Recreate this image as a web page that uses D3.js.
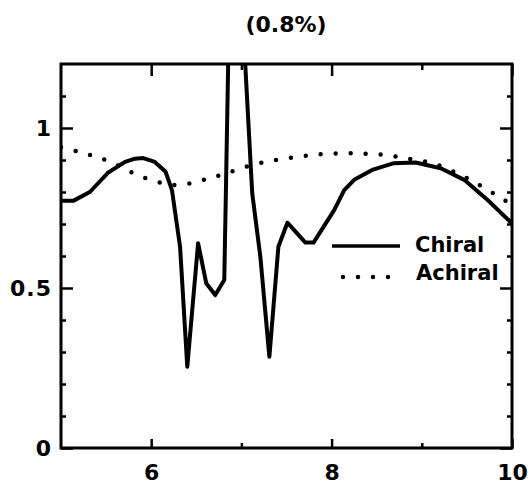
<!DOCTYPE html>
<html>
<head>
<meta charset="utf-8">
<script src="https://cdn.jsdelivr.net/npm/d3@7"></script>
<style>
  html, body { margin: 0; padding: 0; background: #fff; }
  svg { display: block; }
  text { font-family: "DejaVu Sans", sans-serif; font-weight: bold; fill: #000; }
</style>
</head>
<body>
<script>
// Wavelength-like abscissa and response values for the two media
const chiralX = [5.00, 5.14, 5.32, 5.52, 5.71, 5.82, 5.91, 6.04, 6.16, 6.23, 6.32, 6.40, 6.52, 6.61, 6.71, 6.81, 6.83, 6.90, 7.12, 7.21, 7.31, 7.41, 7.51, 7.71, 7.80, 8.03, 8.14, 8.25, 8.45, 8.69, 8.93, 9.21, 9.47, 9.73, 10.00];
const chiralY = [0.773, 0.773, 0.800, 0.860, 0.894, 0.904, 0.906, 0.894, 0.863, 0.806, 0.629, 0.254, 0.640, 0.515, 0.478, 0.525, 0.830, 1.940, 0.796, 0.598, 0.285, 0.629, 0.704, 0.642, 0.642, 0.744, 0.806, 0.838, 0.869, 0.890, 0.892, 0.874, 0.838, 0.775, 0.702];

const achiralX = [5.00, 5.19, 5.36, 5.51, 5.66, 5.81, 5.97, 6.14, 6.29, 6.47, 6.64, 6.80, 6.96, 7.12, 7.28, 7.44, 7.61, 7.77, 7.93, 8.11, 8.27, 8.43, 8.60, 8.77, 8.93, 9.10, 9.27, 9.41, 9.56, 9.72, 9.87, 10.00];
const achiralY = [0.940, 0.926, 0.912, 0.898, 0.879, 0.858, 0.840, 0.827, 0.822, 0.829, 0.843, 0.855, 0.871, 0.884, 0.895, 0.902, 0.910, 0.915, 0.919, 0.921, 0.921, 0.919, 0.916, 0.908, 0.900, 0.892, 0.874, 0.856, 0.835, 0.808, 0.783, 0.760];

const titleText = "(0.8%)";
const seriesNames = ["Chiral", "Achiral"];
const xMajorTicks = [6, 8, 10];
const xMinorTicks = [7, 9];
const yMajorTicks = [0, 0.5, 1];
const yMinorTicks = [0.1, 0.2, 0.3, 0.4, 0.6, 0.7, 0.8, 0.9, 1.1];

const W = 531, H = 487;
const plot = { left: 61, right: 512, top: 64, bottom: 448 };

const x = d3.scaleLinear().domain([5, 10]).range([plot.left, plot.right]);
const y = d3.scaleLinear().domain([0, 1.2]).range([plot.bottom, plot.top]);

const svg = d3.select("body").append("svg").attr("width", W).attr("height", H);

svg.append("defs").append("clipPath").attr("id", "plot-clip")
  .append("rect")
  .attr("x", plot.left).attr("y", plot.top)
  .attr("width", plot.right - plot.left).attr("height", plot.bottom - plot.top);

// Title
svg.append("text")
  .attr("x", 286).attr("y", 32)
  .attr("text-anchor", "middle")
  .attr("font-size", 22)
  .text(titleText);

// Axes: inward ticks on all four sides, longer at labelled values
function styleAxis(g) {
  g.select(".domain").remove();
  g.selectAll(".tick line").attr("stroke", "#000").attr("stroke-width", 2.5);
  g.selectAll(".tick text").attr("font-size", 22).attr("fill", "#000")
    .attr("font-family", "DejaVu Sans, sans-serif").attr("font-weight", "bold");
}

const fmtY = d => d === 0 ? "0" : d === 1 ? "1" : d3.format(".1f")(d);

svg.append("g").attr("transform", `translate(0,${plot.bottom})`)
  .call(d3.axisBottom(x).tickValues(xMajorTicks).tickSize(-9).tickPadding(16).tickFormat(d3.format("d")))
  .call(styleAxis);
svg.append("g").attr("transform", `translate(0,${plot.bottom})`)
  .call(d3.axisBottom(x).tickValues(xMinorTicks).tickSize(-5).tickFormat(""))
  .call(styleAxis);
svg.append("g").attr("transform", `translate(0,${plot.top})`)
  .call(d3.axisTop(x).tickValues(xMajorTicks).tickSize(-12).tickFormat(""))
  .call(styleAxis);
svg.append("g").attr("transform", `translate(0,${plot.top})`)
  .call(d3.axisTop(x).tickValues(xMinorTicks).tickSize(-6).tickFormat(""))
  .call(styleAxis);

svg.append("g").attr("transform", `translate(${plot.left},0)`)
  .call(d3.axisLeft(y).tickValues(yMajorTicks).tickSize(-12).tickPadding(9).tickFormat(fmtY))
  .call(styleAxis)
  .call(g => g.selectAll(".tick text").attr("letter-spacing", 1));
svg.append("g").attr("transform", `translate(${plot.left},0)`)
  .call(d3.axisLeft(y).tickValues(yMinorTicks).tickSize(-5).tickFormat(""))
  .call(styleAxis);
svg.append("g").attr("transform", `translate(${plot.right},0)`)
  .call(d3.axisRight(y).tickValues(yMajorTicks).tickSize(-12).tickFormat(""))
  .call(styleAxis);
svg.append("g").attr("transform", `translate(${plot.right},0)`)
  .call(d3.axisRight(y).tickValues(yMinorTicks).tickSize(-5).tickFormat(""))
  .call(styleAxis);

// Curves
const chiral = chiralX.map((v, i) => [v, chiralY[i]]);
const achiral = achiralX.map((v, i) => [v, achiralY[i]]);

const lines = svg.append("g").attr("clip-path", "url(#plot-clip)");

lines.append("path")
  .datum(achiral)
  .attr("fill", "none")
  .attr("stroke", "#000")
  .attr("stroke-width", 4.5)
  .attr("stroke-linecap", "round")
  .attr("stroke-dasharray", "0,15")
  .attr("d", d3.line().x(d => x(d[0])).y(d => y(d[1])).curve(d3.curveCatmullRom));

lines.append("path")
  .datum(chiral)
  .attr("fill", "none")
  .attr("stroke", "#000")
  .attr("stroke-width", 4)
  .attr("stroke-linejoin", "round")
  .attr("d", d3.line().x(d => x(d[0])).y(d => y(d[1])));

// Frame
svg.append("rect")
  .attr("x", plot.left).attr("y", plot.top)
  .attr("width", plot.right - plot.left).attr("height", plot.bottom - plot.top)
  .attr("fill", "none").attr("stroke", "#000").attr("stroke-width", 3);

// Legend
const legend = svg.append("g");
legend.append("line")
  .attr("x1", 332).attr("x2", 400).attr("y1", 246).attr("y2", 246)
  .attr("stroke", "#000").attr("stroke-width", 3.5);
legend.append("line")
  .attr("x1", 343).attr("x2", 389).attr("y1", 277).attr("y2", 277)
  .attr("stroke", "#000").attr("stroke-width", 4.5)
  .attr("stroke-linecap", "round").attr("stroke-dasharray", "0,15");
legend.append("text").attr("x", 415).attr("y", 252).attr("font-size", 21).text(seriesNames[0]);
legend.append("text").attr("x", 416).attr("y", 280).attr("font-size", 21).text(seriesNames[1]);
</script>
</body>
</html>
